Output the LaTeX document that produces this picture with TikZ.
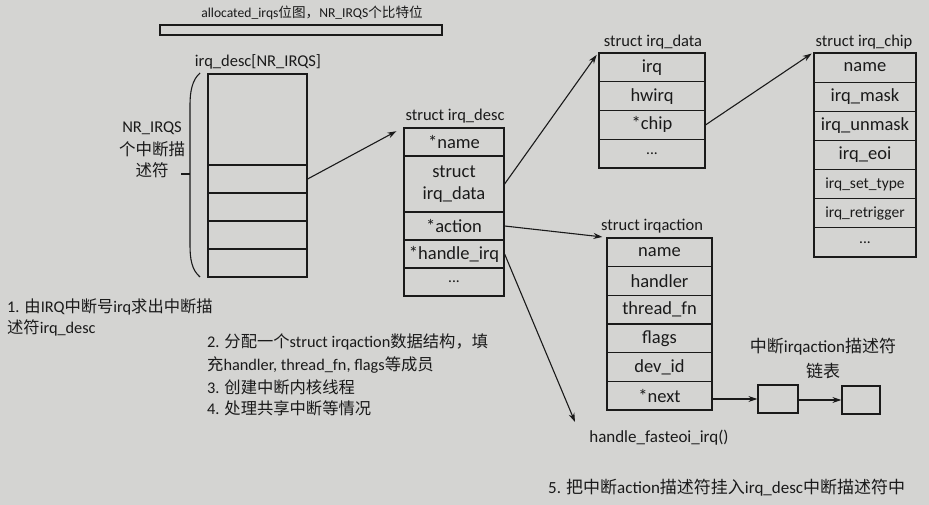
\documentclass[tikz,border=0pt]{standalone}
\usepackage{fontspec}
\setmainfont{Carlito}
\newfontfamily\zh{Noto Sans CJK SC}
\usetikzlibrary{arrows.meta,calc}
\definecolor{paper}{RGB}{212,212,210}
\definecolor{ink}{RGB}{26,26,26}
\newcommand\celltxt{\fontsize{18.5}{22}\selectfont}
\newcommand\smalltxt{\fontsize{15.5}{18}\selectfont}
\newcommand\lbltxt{\fontsize{16.5}{20}\selectfont}
\newcommand\paratxt{\fontsize{17}{20}\selectfont}
\newcommand\notetxt{\fontsize{16.3}{20}\selectfont}
\newcommand\celldots{{\smalltxt ...}}
\begin{document}
\begin{tikzpicture}[x=1pt,y=-1pt,
  cell/.style={draw=ink, line width=1.2pt, inner sep=0pt, font=\celltxt, text=ink, align=center},
  lbl/.style={inner sep=0pt, font=\lbltxt, text=ink},
  para/.style={inner sep=0pt, font=\notetxt, text=ink, anchor=west},
  arr/.style={draw=ink, line width=1.1pt, -{Stealth[length=9pt,width=6pt]}},
  plain/.style={draw=ink, line width=1.1pt}]
\fill[paper] (0,0) rectangle (929,505);
\useasboundingbox (0,0) rectangle (929,505);

% bitmap
\node[lbl, font=\fontsize{13.6}{16}\selectfont] (alloclbl) at (312,13) {allocated\_irqs{\zh 位图，}NR\_IRQS{\zh 个比特位}};
\node[cell, minimum width=282, minimum height=10] (bar) at (301,30) {};

% irq_desc array
\node[lbl] (arrlbl) at (258,62) {irq\_desc[NR\_IRQS]};
\node[cell, minimum width=99, minimum height=91] (a0) at (257.5,119.5) {};
\node[cell, minimum width=99, minimum height=28] (a1) at (257.5,179) {};
\node[cell, minimum width=99, minimum height=28] (a2) at (257.5,207) {};
\node[cell, minimum width=99, minimum height=28] (a3) at (257.5,235) {};
\node[cell, minimum width=99, minimum height=28] (a4) at (257.5,263) {};

% brace
\coordinate (bt) at (200,73);
\coordinate (bb) at (200,277);
\coordinate (bm) at (181,174);
\draw[plain] (bt) .. controls (192,80) and (190,92) .. (190,105) -- (190,245) .. controls (190,260) and (192,270) .. (bb);
\draw[plain] (bm) -- (190,174);
\node[lbl, align=center] (nrlbl1) at (152,128) {NR\_IRQS};
\node[lbl] (nrlbl2) at (152,149) {\zh 个中断描};
\node[lbl] (nrlbl3) at (152,170) {\zh 述符};

% struct irq_desc
\node[lbl] (desclbl) at (455,116) {struct irq\_desc};
\node[cell, minimum width=100, minimum height=28] (d1) at (454,142) {*name};
\node[cell, minimum width=100, minimum height=56] (d2) at (454,184) {struct\\irq\_data};
\node[cell, minimum width=100, minimum height=28] (d3) at (454,226) {*action};
\node[cell, minimum width=100, minimum height=28] (d4) at (454,254) {*handle\_irq};
\node[cell, minimum width=100, minimum height=28] (d5) at (454,282) {\celldots};

% struct irq_data
\node[lbl] (datalbl) at (653,42) {struct irq\_data};
\foreach \t [count=\i] in {irq,hwirq,*chip,\celldots}
  \node[cell, minimum width=106, minimum height=28.75] (q\i) at (652,{53+28.75*(\i-0.5)}) {\t};

% struct irq_chip
\node[lbl] (chiplbl) at (864,42) {struct irq\_chip};
\foreach \t [count=\i] in {name,irq\_mask,irq\_unmask,irq\_eoi,{\smalltxt irq\_set\_type},{\smalltxt irq\_retrigger},\celldots}
  \node[cell, minimum width=102, minimum height=29.14] (c\i) at (865,{53+29.14*(\i-0.5)}) {\t};

% struct irqaction
\node[lbl] (actlbl) at (652,226) {struct irqaction};
\foreach \t [count=\i] in {name,handler,thread\_fn,flags,dev\_id,*next}
  \node[cell, minimum width=105, minimum height=28.67] (p\i) at (659.5,{238+28.67*(\i-0.5)}) {\t};

% list boxes
\node[cell, minimum width=40, minimum height=28] (b1) at (778,399) {};
\node[cell, minimum width=38, minimum height=28] (b2) at (861,400) {};
\node[lbl, font=\paratxt] (listlbl1) at (823,347) {{\zh 中断}irqaction{\zh 描述符}};
\node[lbl, font=\paratxt] (listlbl2) at (823,371) {\zh 链表};

\node[lbl, font=\paratxt] (fasteoi) at (659,438) {handle\_fasteoi\_irq()};
\coordinate (fe) at (575,422);

% connectors
\draw[arr, shorten >=8pt] (a1.east) -- (d1.north west);
\draw[arr, shorten >=3pt] (d2.east) -- (q1.north west);
\draw[arr, shorten >=2pt] (q3.east) -- (c1.north west);
\draw[arr, shorten >=4pt] (d3.east) -- (p1.north west);
\draw[arr] (d4.east) -- (fe);
\draw[arr] (p6.east |- b1.west) -- (b1.west);
\draw[arr] (b1.east |- b2.west) -- (b2.west);

% notes
\node[para] (n1a) at (7,307) {1. {\zh 由}IRQ{\zh 中断号}irq{\zh 求出中断描}};
\node[para] (n1b) at (7,328) {{\zh 述符}irq\_desc};
\node[para] (n2a) at (207,342) {2. {\zh 分配一个}struct irqaction{\zh 数据结构，填}};
\node[para] (n2b) at (207,365) {{\zh 充}handler, thread\_fn, flags{\zh 等成员}};
\node[para] (n3) at (207,387) {3. {\zh 创建中断内核线程}};
\node[para] (n4) at (207,408) {4. {\zh 处理共享中断等情况}};
\node[para, font=\paratxt] (n5) at (548,488) {5. {\zh 把中断}action{\zh 描述符挂入}irq\_desc{\zh 中断描述符中}};
\end{tikzpicture}
\end{document}
